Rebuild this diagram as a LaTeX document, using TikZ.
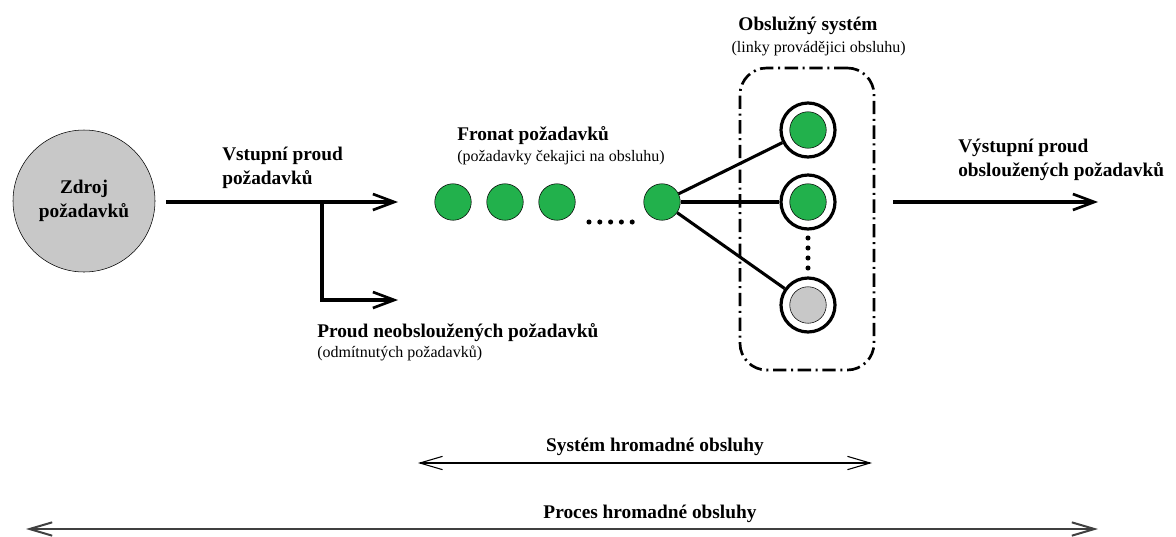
\documentclass[tikz,border=0pt]{standalone}
\usepackage{fontspec}
\setmainfont{Liberation Serif}
\usetikzlibrary{arrows.meta,positioning}

\definecolor{custgreen}{RGB}{34,177,76}
\definecolor{srcgray}{RGB}{200,200,200}

\begin{document}
\begin{tikzpicture}[
  x=0.75pt, y=-0.75pt,
  head/.style={font=\fontsize{14.5}{18}\selectfont\bfseries, inner sep=0pt, align=left},
  sub/.style={font=\fontsize{12}{14}\selectfont, inner sep=0pt, align=left},
  cust/.style={circle, draw, thin, fill=custgreen, minimum size=36.5*0.75pt, inner sep=0pt},
  idle/.style={cust, fill=srcgray},
  ring/.style={circle, draw, line width=2.4pt, fill=white, minimum size=54*0.75pt, inner sep=0pt},
  flow/.style={line width=2.3pt, -{Straight Barb[length=16pt, width=12pt, line width=2pt]}},
  link/.style={line width=2.3pt},
  span/.style={line width=0.8pt, {Straight Barb[length=17pt, width=10pt]}-{Straight Barb[length=17pt, width=10pt]}}
]
\useasboundingbox (0,0) rectangle (1176,536);

% source of requests
\node[circle, draw, fill=srcgray, minimum size=142*0.75pt, inner sep=0pt,
  head, align=center] (src) at (84,201) {Zdroj\\požadavků};

% incoming stream and the rejected branch
\coordinate (inS) at (166,202);
\coordinate (inE) at (398,202);
\coordinate (fork) at (322,202);
\coordinate (rejE) at (398,300);
\draw[flow] (inS) -- (inE);
\draw[flow] (fork) |- (rejE);
\node[head, anchor=north west] (inlbl) at (222,147) {Vstupní proud\\požadavků};
\node[head, anchor=north west] (rejlbl) at (317,323) {Proud neobsloužených požadavků};
\node[sub, anchor=north west] (rejsub) at ([yshift=-3pt]rejlbl.south west) {(odmítnutých požadavků)};

% queue
\node[cust] (q1) at (453,202) {};
\node[cust] (q2) at (505,202) {};
\node[cust] (q3) at (557,202) {};
\node[cust] (q4) at (662,202) {};
\foreach \i in {0,...,4}
  \fill (589+\i*10.8,222) circle (1.9pt);
\node[head, anchor=north west] (qlbl) at (457,126) {Fronat požadavků};
\node[sub, anchor=north west] (qsub) at ([yshift=-4pt]qlbl.south west) {(požadavky čekajici na obsluhu)};

% service channels
\node[minimum width=134*0.75pt, minimum height=302*0.75pt, draw, line width=2pt,
  rounded corners=20pt, dash pattern=on 10pt off 3.5pt on 1.5pt off 3.5pt] (sys) at (807,219) {};
\node[ring] (s1) at (808,130) {};
\node[ring] (s2) at (808,202) {};
\node[ring] (s3) at (808,305) {};
\node[cust] (c1) at (s1) {};
\node[cust] (c2) at (s2) {};
\node[idle] (c3) at (s3) {};
\foreach \i in {0,...,3}
  \fill (808,238+\i*10) circle (1.9pt);
\foreach \s in {s1,s2,s3}
  \draw[link] (q4) -- (\s);
\node[head, anchor=north, align=center] (syslbl) at (808,17) {Obslužný systém};
\node[sub, anchor=north] (syssub) at ([yshift=-4pt,xshift=8pt]syslbl.south) {(linky provádějici obsluhu)};

% outgoing stream
\coordinate (outS) at (893,202);
\coordinate (outE) at (1098,202);
\draw[flow] (outS) -- (outE);
\node[head, anchor=north west] (outlbl) at (958,139) {Výstupní proud\\obsloužených požadavků};

% extents
\coordinate (shmL) at (418,463);
\coordinate (shmR) at (872,463);
\draw[span] (shmL) -- (shmR);
\node[head, anchor=south] (shm) at (655,456) {Systém hromadné obsluhy};
\coordinate (phoL) at (26,529);
\coordinate (phoR) at (1098,529);
\draw[span, line width=1.5pt, black!75] (phoL) -- (phoR);
\node[head, anchor=south] (pho) at (650,523) {Proces hromadné obsluhy};
\end{tikzpicture}
\end{document}
